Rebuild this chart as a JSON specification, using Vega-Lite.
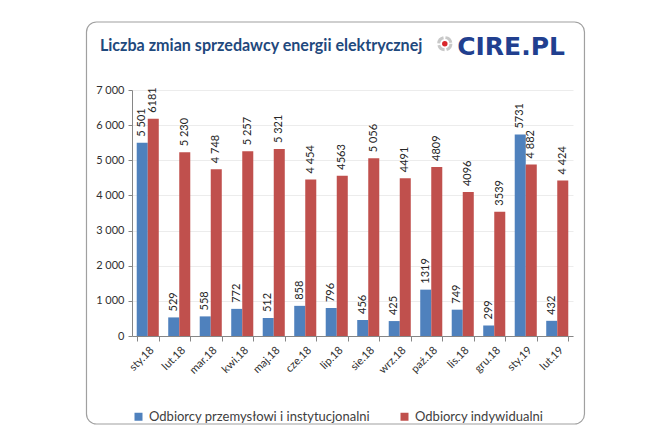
{
  "$schema": "https://vega.github.io/schema/vega-lite/v6.json",
  "width": 441,
  "height": 246,
  "padding": {"left": 85, "top": 21, "right": 10, "bottom": 5},
  "background": "white",
  "config": {
    "font": "Lato",
    "view": {"stroke": null}
  },
  "title": {
    "text": "Liczba zmian sprzedawcy energii elektrycznej",
    "orient": "top",
    "anchor": "start",
    "frame": "bounds",
    "baseline": "middle",
    "offset": -40.5,
    "dx": 14,
    "font": "Lato",
    "fontSize": 16.1,
    "fontWeight": "bold",
    "color": "#1F497D"
  },
  "datasets": {
    "zmiany": [
      {"month": "sty.18", "series": "Odbiorcy przemysłowi i instytucjonalni", "value": 5501, "label": "5 501"},
      {"month": "sty.18", "series": "Odbiorcy indywidualni", "value": 6181, "label": "6181"},
      {"month": "lut.18", "series": "Odbiorcy przemysłowi i instytucjonalni", "value": 529, "label": "529"},
      {"month": "lut.18", "series": "Odbiorcy indywidualni", "value": 5230, "label": "5 230"},
      {"month": "mar.18", "series": "Odbiorcy przemysłowi i instytucjonalni", "value": 558, "label": "558"},
      {"month": "mar.18", "series": "Odbiorcy indywidualni", "value": 4748, "label": "4 748"},
      {"month": "kwi.18", "series": "Odbiorcy przemysłowi i instytucjonalni", "value": 772, "label": "772"},
      {"month": "kwi.18", "series": "Odbiorcy indywidualni", "value": 5257, "label": "5 257"},
      {"month": "maj.18", "series": "Odbiorcy przemysłowi i instytucjonalni", "value": 512, "label": "512"},
      {"month": "maj.18", "series": "Odbiorcy indywidualni", "value": 5321, "label": "5 321"},
      {"month": "cze.18", "series": "Odbiorcy przemysłowi i instytucjonalni", "value": 858, "label": "858"},
      {"month": "cze.18", "series": "Odbiorcy indywidualni", "value": 4454, "label": "4 454"},
      {"month": "lip.18", "series": "Odbiorcy przemysłowi i instytucjonalni", "value": 796, "label": "796"},
      {"month": "lip.18", "series": "Odbiorcy indywidualni", "value": 4563, "label": "4563"},
      {"month": "sie.18", "series": "Odbiorcy przemysłowi i instytucjonalni", "value": 456, "label": "456"},
      {"month": "sie.18", "series": "Odbiorcy indywidualni", "value": 5056, "label": "5 056"},
      {"month": "wrz.18", "series": "Odbiorcy przemysłowi i instytucjonalni", "value": 425, "label": "425"},
      {"month": "wrz.18", "series": "Odbiorcy indywidualni", "value": 4491, "label": "4491"},
      {"month": "paź.18", "series": "Odbiorcy przemysłowi i instytucjonalni", "value": 1319, "label": "1319"},
      {"month": "paź.18", "series": "Odbiorcy indywidualni", "value": 4809, "label": "4809"},
      {"month": "lis.18", "series": "Odbiorcy przemysłowi i instytucjonalni", "value": 749, "label": "749"},
      {"month": "lis.18", "series": "Odbiorcy indywidualni", "value": 4096, "label": "4096"},
      {"month": "gru.18", "series": "Odbiorcy przemysłowi i instytucjonalni", "value": 299, "label": "299"},
      {"month": "gru.18", "series": "Odbiorcy indywidualni", "value": 3539, "label": "3539"},
      {"month": "sty.19", "series": "Odbiorcy przemysłowi i instytucjonalni", "value": 5731, "label": "5731"},
      {"month": "sty.19", "series": "Odbiorcy indywidualni", "value": 4882, "label": "4 882"},
      {"month": "lut.19", "series": "Odbiorcy przemysłowi i instytucjonalni", "value": 432, "label": "432"},
      {"month": "lut.19", "series": "Odbiorcy indywidualni", "value": 4424, "label": "4 424"}
    ]
  },
  "resolve": {"scale": {"x": "independent"}, "axis": {"y": "independent"}},
  "layer": [
    {
      "data": {"name": "zmiany"},
      "encoding": {
        "x": {
          "field": "month",
          "type": "nominal",
          "sort": null,
          "title": null,
          "scale": {"paddingInner": 0.3, "paddingOuter": 0.15},
          "axis": {
            "labelAngle": -45,
            "tickBand": "extent",
            "tickSize": 5,
            "domainColor": "#868686",
            "tickColor": "#868686",
            "labelFontSize": 11,
            "labelColor": "#303030",
            "labelPadding": 3,
            "grid": false
          }
        },
        "xOffset": {
          "field": "series",
          "type": "nominal",
          "sort": ["Odbiorcy przemysłowi i instytucjonalni", "Odbiorcy indywidualni"]
        },
        "y": {
          "field": "value",
          "type": "quantitative",
          "title": null,
          "scale": {"domain": [0, 7000], "nice": false},
          "axis": {
            "values": [0, 1000, 2000, 3000, 4000, 5000, 6000, 7000],
            "labelExpr": "replace(format(datum.value, ','), ',', ' ')",
            "labelOverlap": false,
            "grid": true,
            "gridColor": "#ececec",
            "domainColor": "#868686",
            "tickColor": "#868686",
            "tickSize": 4,
            "labelPadding": 4,
            "labelFontSize": 11,
            "labelColor": "#303030"
          }
        }
      },
      "layer": [
        {
          "mark": {"type": "bar"},
          "encoding": {
            "color": {
              "field": "series",
              "type": "nominal",
              "sort": ["Odbiorcy przemysłowi i instytucjonalni", "Odbiorcy indywidualni"],
              "scale": {
                "domain": ["Odbiorcy przemysłowi i instytucjonalni", "Odbiorcy indywidualni"],
                "range": ["#4F81BD", "#C0504D"]
              },
              "legend": {
                "orient": "bottom",
                "title": null,
                "symbolType": "square",
                "symbolSize": 64,
                "symbolStrokeWidth": 0,
                "labelFontSize": 13,
                "labelColor": "#404040",
                "labelLimit": 400,
                "columnPadding": 28,
                "offset": 34
              }
            }
          }
        },
        {
          "mark": {
            "type": "text",
            "angle": 270,
            "align": "left",
            "baseline": "middle",
            "dx": 6,
            "fontSize": 11,
            "color": "#262626"
          },
          "encoding": {
            "text": {"field": "label"}
          }
        }
      ]
    },
    {
      "data": {"values": [{"part": "frame"}]},
      "layer": [
        {
          "mark": {"type": "rect", "filled": false, "stroke": "#a0a0a0", "strokeWidth": 1.2, "cornerRadius": 10},
          "encoding": {
            "x": {"datum": -0.1032, "type": "quantitative", "scale": {"domain": [0, 1], "nice": false}, "axis": null},
            "x2": {"datum": 1.026},
            "y": {"datum": -2504, "type": "quantitative", "scale": {"domain": [0, 7000], "nice": false}, "axis": null},
            "y2": {"datum": 8935}
          }
        },
        {
          "mark": {"type": "point", "shape": "circle", "size": 150, "filled": false, "stroke": "#c8c8c8", "strokeWidth": 3, "strokeDash": [7.6, 2], "opacity": 1},
          "encoding": {
            "x": {"datum": 0.7093, "type": "quantitative", "scale": {"domain": [0, 1], "nice": false}, "axis": null},
            "y": {"datum": 8317, "type": "quantitative", "scale": {"domain": [0, 7000], "nice": false}, "axis": null}
          }
        },
        {
          "mark": {"type": "point", "shape": "circle", "size": 30, "filled": true, "color": "#d9262b", "opacity": 1},
          "encoding": {
            "x": {"datum": 0.7093, "type": "quantitative", "scale": {"domain": [0, 1], "nice": false}, "axis": null},
            "y": {"datum": 8317, "type": "quantitative", "scale": {"domain": [0, 7000], "nice": false}, "axis": null}
          }
        },
        {
          "mark": {"type": "text", "align": "left", "baseline": "alphabetic", "font": "DejaVu Sans", "fontWeight": "bold", "fontSize": 25, "color": "#213f8f"},
          "encoding": {
            "x": {"datum": 0.7374, "type": "quantitative", "scale": {"domain": [0, 1], "nice": false}, "axis": null},
            "y": {"datum": 8004, "type": "quantitative", "scale": {"domain": [0, 7000], "nice": false}, "axis": null},
            "text": {"value": "CIRE.PL"}
          }
        }
      ]
    }
  ]
}
